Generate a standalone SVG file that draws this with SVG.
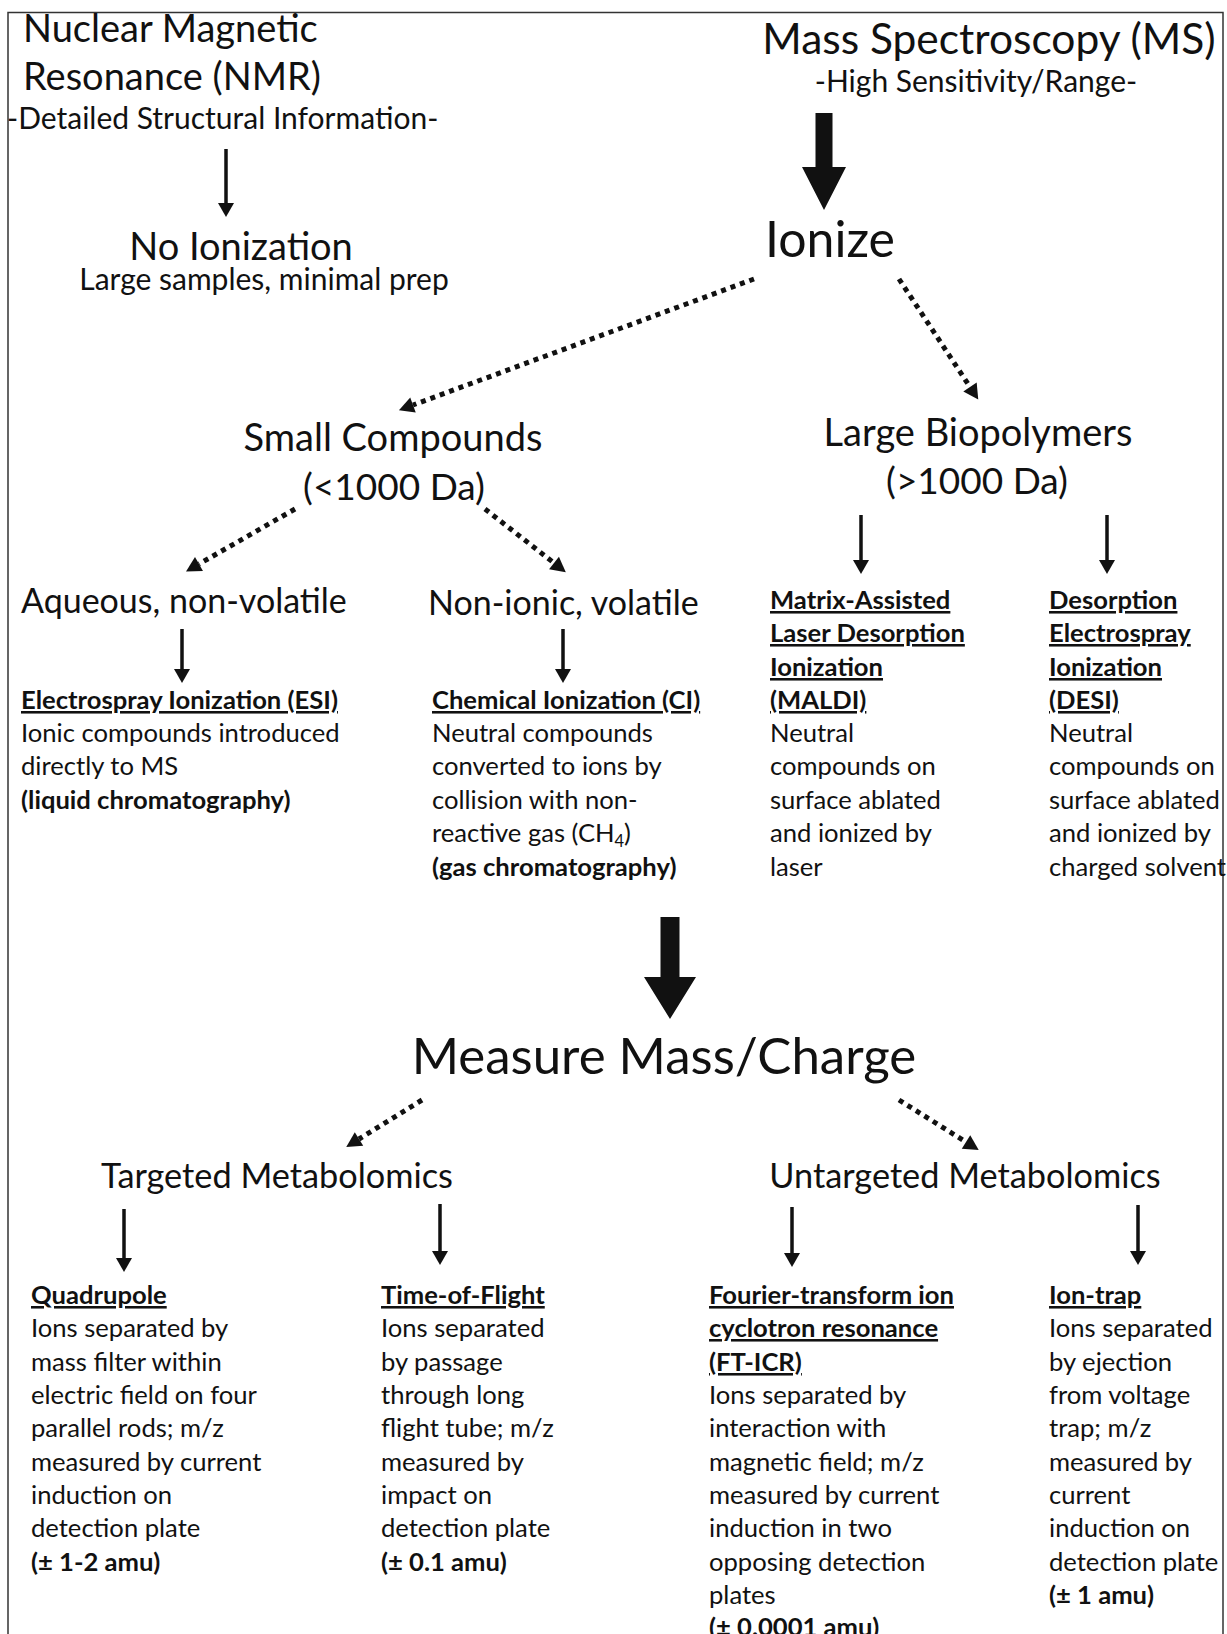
<svg xmlns="http://www.w3.org/2000/svg" width="1227" height="1634" viewBox="0 0 1227 1634">
<defs>
<style>
text{font-family:Lato,"Liberation Sans",sans-serif;fill:#111;}
.t1{font-size:38px;}
.t2{font-size:42.5px;}
.sub{font-size:30px;}
.ion{font-size:50px;}
.mid{font-size:38px;}
.da{font-size:37px;}
.lvl{font-size:34px;}
.body{font-size:25.6px;}
.hd{font-size:25.6px;font-weight:bold;text-decoration:underline;}
.bd{font-size:25.6px;font-weight:bold;}
.meas{font-size:51px;}
.met{font-size:34.3px;}
.thin{stroke:#111;stroke-width:3.5;fill:none;marker-end:url(#ah);}
.dot{stroke:#111;stroke-width:5;fill:none;stroke-dasharray:5 5;marker-end:url(#dh);}
.big{fill:#111;}
</style>
<marker id="ah" markerUnits="userSpaceOnUse" markerWidth="18" markerHeight="18" refX="0" refY="8" orient="auto" overflow="visible">
<path d="M0,0 L14,8 L0,16 z" fill="#111"/>
</marker>
<marker id="dh" markerUnits="userSpaceOnUse" markerWidth="18" markerHeight="18" refX="0" refY="8" orient="auto" overflow="visible">
<path d="M0,0 L15,8 L0,16 z" fill="#111"/>
</marker>
</defs>
<rect width="1227" height="1634" fill="#fff"/>
<path d="M8,1634 V12.5 H1223 V1634" fill="none" stroke="#333" stroke-width="1.5"/>

<g id="nmr">
<text class="t1" x="23" y="42">Nuclear Magnetic</text>
<text class="t1" x="23" y="90">Resonance (NMR)</text>
<text class="sub" x="7" y="129">-Detailed Structural Information-</text>
</g>
<g id="no-ionization">
<text class="t1" x="241" y="260" text-anchor="middle">No Ionization</text>
<text class="sub" x="264" y="290" text-anchor="middle" font-size="30.4">Large samples, minimal prep</text>
</g>
<g id="ms">
<text class="t2" x="989" y="54" text-anchor="middle">Mass Spectroscopy (MS)</text>
<text class="sub" x="976" y="92" text-anchor="middle" font-size="29.4">-High Sensitivity/Range-</text>
</g>
<g id="ionize">
<text class="ion" x="830" y="257" text-anchor="middle">Ionize</text>
</g>
<g id="small">
<text class="mid" x="393" y="451" text-anchor="middle">Small Compounds</text>
<text class="da" x="394" y="500" text-anchor="middle">(&lt;1000 Da)</text>
</g>
<g id="large">
<text class="mid" x="978" y="446" text-anchor="middle">Large Biopolymers</text>
<text class="da" x="977" y="494" text-anchor="middle">(&gt;1000 Da)</text>
</g>
<g id="aqueous">
<text class="lvl" x="21" y="613">Aqueous, non-volatile</text>
</g>
<g id="nonionic">
<text class="lvl" x="428" y="615">Non-ionic, volatile</text>
</g>
<g id="esi">
<text class="hd" x="21" y="709">Electrospray Ionization (ESI)</text>
<text class="body" x="21" y="742">Ionic compounds introduced</text>
<text class="body" x="21" y="775">directly to MS</text>
<text class="bd" x="21" y="809">(liquid chromatography)</text>
</g>
<g id="ci">
<text class="hd" x="432" y="709">Chemical Ionization (CI)</text>
<text class="body" x="432" y="742">Neutral compounds</text>
<text class="body" x="432" y="775">converted to ions by</text>
<text class="body" x="432" y="809">collision with non-</text>
<text class="body" x="432" y="842">reactive gas (CH<tspan font-size="16.5" dy="5">4</tspan><tspan dy="-5">)</tspan></text>
<text class="bd" x="432" y="876">(gas chromatography)</text>
</g>
<g id="maldi">
<text class="hd" x="770" y="609">Matrix-Assisted</text>
<text class="hd" x="770" y="642">Laser Desorption</text>
<text class="hd" x="770" y="676">Ionization</text>
<text class="hd" x="770" y="709">(MALDI)</text>
<text class="body" x="770" y="742">Neutral</text>
<text class="body" x="770" y="775">compounds on</text>
<text class="body" x="770" y="809">surface ablated</text>
<text class="body" x="770" y="842">and ionized by</text>
<text class="body" x="770" y="876">laser</text>
</g>
<g id="desi">
<text class="hd" x="1049" y="609">Desorption</text>
<text class="hd" x="1049" y="642">Electrospray</text>
<text class="hd" x="1049" y="676">Ionization</text>
<text class="hd" x="1049" y="709">(DESI)</text>
<text class="body" x="1049" y="742">Neutral</text>
<text class="body" x="1049" y="775">compounds on</text>
<text class="body" x="1049" y="809">surface ablated</text>
<text class="body" x="1049" y="842">and ionized by</text>
<text class="body" x="1049" y="876">charged solvent</text>
</g>
<g id="measure">
<text class="meas" x="664" y="1074" text-anchor="middle">Measure Mass/Charge</text>
</g>
<g id="targeted">
<text class="met" x="277" y="1188" text-anchor="middle">Targeted Metabolomics</text>
</g>
<g id="untargeted">
<text class="met" x="965" y="1188" text-anchor="middle">Untargeted Metabolomics</text>
</g>
<g id="quadrupole">
<text class="hd" x="31" y="1304">Quadrupole</text>
<text class="body" x="31" y="1337">Ions separated by</text>
<text class="body" x="31" y="1371">mass filter within</text>
<text class="body" x="31" y="1404">electric field on four</text>
<text class="body" x="31" y="1437">parallel rods; m/z</text>
<text class="body" x="31" y="1471">measured by current</text>
<text class="body" x="31" y="1504">induction on</text>
<text class="body" x="31" y="1537">detection plate</text>
<text class="bd" x="31" y="1571">(± 1-2 amu)</text>
</g>
<g id="tof">
<text class="hd" x="381" y="1304">Time-of-Flight</text>
<text class="body" x="381" y="1337">Ions separated</text>
<text class="body" x="381" y="1371">by passage</text>
<text class="body" x="381" y="1404">through long</text>
<text class="body" x="381" y="1437">flight tube; m/z</text>
<text class="body" x="381" y="1471">measured by</text>
<text class="body" x="381" y="1504">impact on</text>
<text class="body" x="381" y="1537">detection plate</text>
<text class="bd" x="381" y="1571">(± 0.1 amu)</text>
</g>
<g id="fticr">
<text class="hd" x="709" y="1304">Fourier-transform ion</text>
<text class="hd" x="709" y="1337">cyclotron resonance</text>
<text class="hd" x="709" y="1371">(FT-ICR)</text>
<text class="body" x="709" y="1404">Ions separated by</text>
<text class="body" x="709" y="1437">interaction with</text>
<text class="body" x="709" y="1471">magnetic field; m/z</text>
<text class="body" x="709" y="1504">measured by current</text>
<text class="body" x="709" y="1537">induction in two</text>
<text class="body" x="709" y="1571">opposing detection</text>
<text class="body" x="709" y="1604">plates</text>
<text class="bd" x="709" y="1636">(± 0.0001 amu)</text>
</g>
<g id="iontrap">
<text class="hd" x="1049" y="1304">Ion-trap</text>
<text class="body" x="1049" y="1337">Ions separated</text>
<text class="body" x="1049" y="1371">by ejection</text>
<text class="body" x="1049" y="1404">from voltage</text>
<text class="body" x="1049" y="1437">trap; m/z</text>
<text class="body" x="1049" y="1471">measured by</text>
<text class="body" x="1049" y="1504">current</text>
<text class="body" x="1049" y="1537">induction on</text>
<text class="body" x="1049" y="1571">detection plate</text>
<text class="bd" x="1049" y="1604">(± 1 amu)</text>
</g>

<g id="connectors">
<line class="thin" x1="226" y1="149" x2="226" y2="203"/>
<path class="big" d="M815.5,113 H832.5 V167 H846 L824,210 L802,167 H815.5 Z"/>
<line class="dot" x1="754" y1="279" x2="413" y2="405"/>
<line class="dot" x1="899" y1="279" x2="970" y2="387"/>
<line class="dot" x1="295" y1="509" x2="199" y2="564"/>
<line class="dot" x1="485" y1="509" x2="554" y2="563"/>
<line class="thin" x1="182" y1="629" x2="182" y2="669"/>
<line class="thin" x1="563" y1="629" x2="563" y2="669"/>
<line class="thin" x1="861" y1="515" x2="861" y2="560"/>
<line class="thin" x1="1107" y1="515" x2="1107" y2="560"/>
<path class="big" d="M660.5,917 H679.5 V977 H696 L670,1019 L644,977 H660.5 Z"/>
<line class="dot" x1="422" y1="1100" x2="359" y2="1139"/>
<line class="dot" x1="899" y1="1100" x2="966" y2="1142"/>
<line class="thin" x1="124" y1="1209" x2="124" y2="1258"/>
<line class="thin" x1="440" y1="1204" x2="440" y2="1251"/>
<line class="thin" x1="792" y1="1207" x2="792" y2="1253"/>
<line class="thin" x1="1138" y1="1205" x2="1138" y2="1251"/>
</g>
</svg>
